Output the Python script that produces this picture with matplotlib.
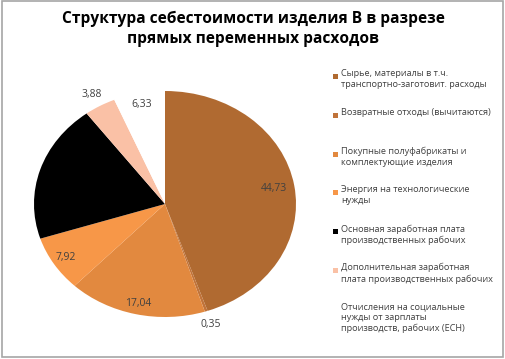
import numpy as np
import matplotlib.pyplot as plt
from matplotlib.patches import Rectangle

plt.rcParams['font.family'] = ['Open Sans', 'DejaVu Sans']

# cost structure of item B, direct variable costs (%)
labels = ['Сырье, материалы в т.ч.\nтранспортно-заготовит. расходы',
          'Возвратные отходы (вычитаются)',
          'Покупные полуфабрикаты и\nкомплектующие изделия',
          'Энергия на технологические\nнужды',
          'Основная заработная плата\nпроизводственных рабочих',
          'Дополнительная заработная\nплата производственных рабочих',
          'Отчисления на социальные\nнужды от зарплаты\nпроизводств, рабочих (ЕСН)']
values = [44.73, 0.35, 17.04, 7.92, 19.75, 3.88, 6.33]
colors = ['#B06A31', '#C0733A', '#E2893F', '#F79748', '#000000', '#FAC1A6', '#FFFFFF']
lab_r = [0.84, 1.12, 0.9, 0.89, 0.87, 1.12, 0.9]

fig = plt.figure(figsize=(5.06, 3.59), dpi=100)
ax = fig.add_axes([34/506, 42/359, 262/506, 226/359])

wedges, _ = ax.pie(values, colors=colors, startangle=90, counterclock=False,
                   wedgeprops=dict(linewidth=0))
ax.set_aspect('auto')
ax.set_xlim(-1, 1)
ax.set_ylim(-1, 1)

for w, v, r in zip(wedges, values, lab_r):
    mid = np.deg2rad((w.theta1 + w.theta2) / 2)
    ax.text(r*np.cos(mid), r*np.sin(mid), f'{v:.2f}'.replace('.', ','),
            ha='center', va='center', fontsize=7.5, color='#404040' if v != 19.75 else 'black')

fig.text(0.5, 1 - 29/359, 'Структура себестоимости изделия В в разрезе\nпрямых переменных расходов',
         ha='center', va='center', fontsize=11.2, fontweight='bold', linespacing=1.35)

# legend drawn by hand, evenly spaced entries like the source
for i, (lab, c) in enumerate(zip(labels, colors)):
    ytop = 69 + i*38.8
    if c != '#FFFFFF':
        fig.patches.append(Rectangle((333/506, 1 - (ytop + 10)/359), 5/506, 5/359,
                                     transform=fig.transFigure, facecolor=c, edgecolor='none'))
    fig.text(341/506, 1 - ytop/359, lab, ha='left', va='top', fontsize=6.6,
             color='#404040', linespacing=1.3)

fig.patches.append(Rectangle((0.003, 0.006), 0.992, 0.99, transform=fig.transFigure,
                             fill=False, edgecolor='#A6A6A6', linewidth=1.2))

fig.savefig('out.png', dpi=100)
